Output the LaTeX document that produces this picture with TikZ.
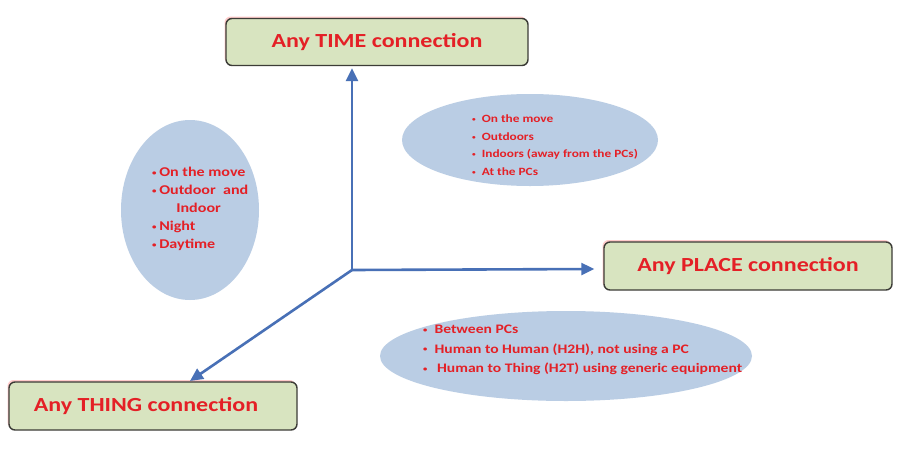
\documentclass[tikz,border=0pt]{standalone}
\usepackage{fontspec}
\setmainfont{Carlito}
\usetikzlibrary{arrows.meta,shadows}
\definecolor{txtred}{RGB}{228,32,38}
\definecolor{boxfill}{RGB}{216,228,192}
\definecolor{boxline}{RGB}{60,60,55}
\definecolor{ellfill}{RGB}{186,205,228}
\definecolor{axisblue}{RGB}{72,112,182}
\newcommand{\wl}[1]{\scalebox{1.2}[1]{#1}}
\newcommand{\bul}{\raisebox{0.2ex}{\scalebox{0.55}{\textbullet}}}
\tikzset{
  conbox/.style={draw=boxline, line width=1.4pt, fill=boxfill, rounded corners=6pt,
    text=txtred, font=\fontsize{20}{24}\selectfont\bfseries,
    drop shadow={shadow xshift=-1.5pt, shadow yshift=2pt, fill=red!45, opacity=0.45}},
  btext/.style={text=txtred, font=\bfseries, align=left, anchor=north west, inner sep=0pt},
  axisarrow/.style={draw=axisblue, line width=2.6pt, -{Triangle[length=13pt,width=12pt]}}
}
\begin{document}
\begin{tikzpicture}[x=1pt,y=-1pt]
\useasboundingbox (0,0) rectangle (897,469);
\fill[white] (0,0) rectangle (897,469);
% ellipses
\fill[ellfill] (190,210) ellipse [x radius=69, y radius=90];
\fill[ellfill] (530,140) ellipse [x radius=128, y radius=46];
\fill[ellfill] (566,356) ellipse [x radius=186, y radius=45];
% boxes
\node[conbox, minimum width=302pt, minimum height=47pt] (time) at (377,42) {\wl{Any TIME connection}};
\node[conbox, minimum width=288pt, minimum height=48pt] (place) at (748,266) {\wl{Any PLACE connection}};
\node[conbox, minimum width=288pt, minimum height=48pt] (thing) at (153,406) {\hspace*{-14pt}\wl{Any THING connection}};
% axes
\coordinate (O) at (352,270);
\coordinate (thingtip) at (190,381);
\draw[axisarrow] (O) -- ([yshift=-2pt]O |- time.south);
\draw[axisarrow] (O) -- ([xshift=-9pt,yshift=-3pt]place.west);
\draw[axisarrow] (O) -- (thingtip);
% texts
\node[btext, font=\fontsize{13.4}{18}\selectfont\bfseries] (t1) at (152,167)
  {\wl{\bul\,On the move}\\ \wl{\bul\,Outdoor\ \ and}\\ \wl{\hspace{1.5em}Indoor}\\ \wl{\bul\,Night}\\ \wl{\bul\,Daytime}};
\node[btext, font=\fontsize{11.1}{17.5}\selectfont\bfseries] (t2) at (472,115)
  {\wl{\bul\ \ On the move}\\ \wl{\bul\ \ Outdoors}\\ \wl{\bul\ \ Indoors (away from the PCs)}\\ \wl{\bul\ \ At the PCs}};
\node[btext, font=\fontsize{13}{19.5}\selectfont\bfseries] (t3) at (423,325)
  {\wl{\bul\ \ Between PCs}\\ \wl{\bul\ \ Human to Human (H2H), not using a PC}\\ \wl{\bul\ \ \,Human to Thing\ (H2T) using generic equipment}};
\end{tikzpicture}
\end{document}
